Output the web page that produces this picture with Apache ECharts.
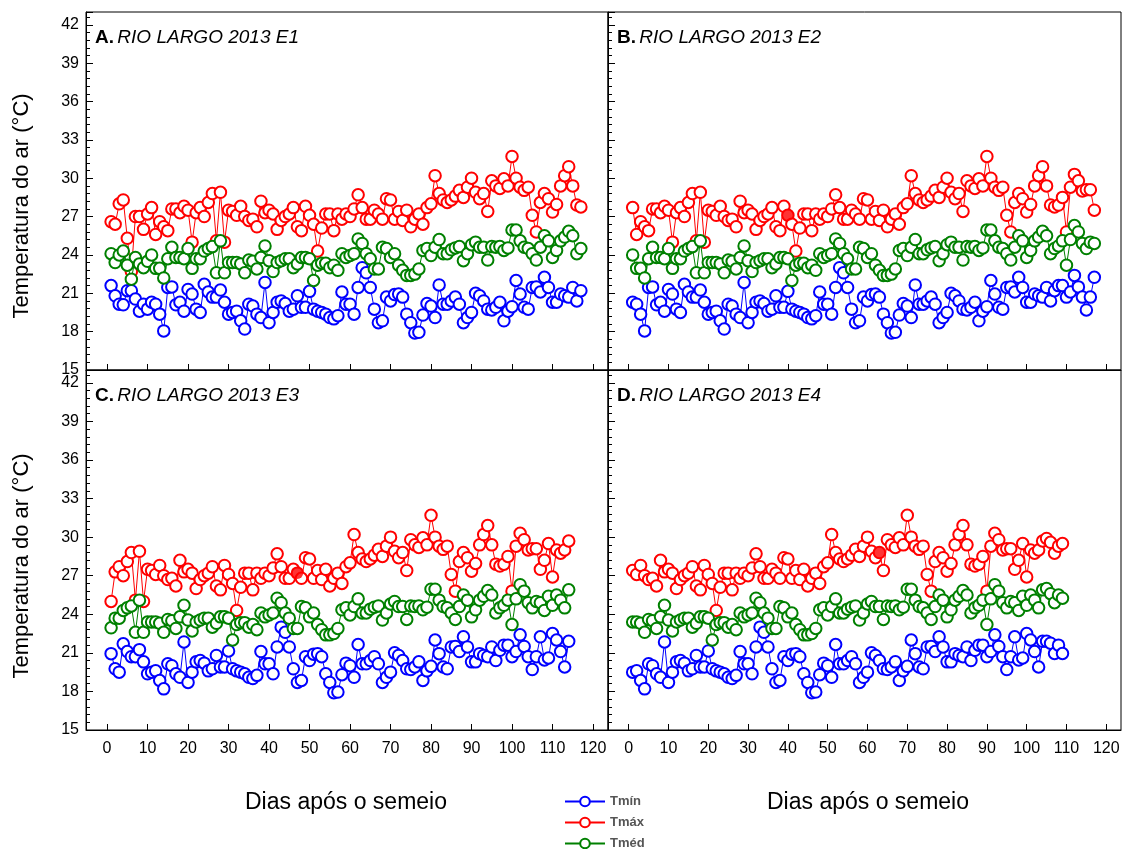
<!DOCTYPE html>
<html><head><meta charset="utf-8">
<script src="https://cdn.jsdelivr.net/npm/echarts@6/dist/echarts.min.js"></script>
<style>html,body{margin:0;padding:0;background:#fff}#c{width:1123px;height:849px}</style>
</head><body><div id="c"></div>
<script>
// Daily series (base day 1..139); each panel is a window of this record
const tmaxBase = [
26.6,26.4,28.0,28.3,25.3,22.7,27.0,27.0,26.0,27.2,
27.7,25.6,26.6,26.2,25.9,27.6,27.6,27.3,27.8,27.5,
25.0,27.3,27.7,27.0,28.1,28.8,25.1,28.9,25.0,27.5,
27.4,27.1,27.8,27.0,26.7,26.8,26.2,28.2,27.3,27.5,
27.2,26.0,26.7,27.0,27.2,27.7,26.2,25.9,27.8,27.1,
26.4,24.3,26.1,27.2,27.2,25.9,27.2,26.8,27.2,27.0,
27.6,28.7,27.7,26.8,26.8,27.5,27.2,26.8,28.4,28.3,
26.8,27.4,26.7,27.5,26.2,26.8,27.2,26.4,27.7,28.0,
30.2,28.8,28.3,28.1,28.3,28.6,29.05,28.5,29.3,30.0,
28.9,28.4,28.8,27.4,29.8,29.4,29.2,29.95,29.4,31.7,
30.0,29.3,29.05,29.3,27.1,25.8,28.1,28.8,28.4,27.35,
27.95,29.4,30.2,30.9,29.4,27.9,27.75,27.9,28.5,25.8,
29.3,30.3,29.8,29.0,29.1,29.1,27.5,28.2,29.5,26.9,
29.0,28.75,29.0,29.7,29.9,29.6,28.75,29.3,29.5];
const tmedBase = [
24.1,23.4,24.0,24.3,23.2,22.1,23.8,23.3,23.0,23.5,
24.0,22.95,22.95,22.2,23.7,24.6,23.8,23.8,23.7,24.5,
22.95,23.7,23.7,24.3,24.5,24.65,22.6,25.1,22.6,23.4,
23.4,23.4,23.3,22.6,23.6,23.5,22.9,23.8,24.7,23.55,
22.7,23.4,23.55,23.7,23.7,23.0,23.3,23.8,23.8,23.7,
22.0,23.2,23.35,23.35,23.0,23.2,22.8,24.1,23.8,23.95,
24.1,25.25,24.9,24.1,23.7,22.9,22.9,24.6,24.5,23.8,
24.1,23.2,22.8,22.4,22.4,22.5,22.9,24.35,24.5,23.95,
24.6,25.2,24.1,24.1,24.4,24.55,24.65,23.55,24.1,24.8,
25.0,24.6,24.6,23.6,24.65,24.6,24.65,24.35,24.55,25.95,
25.95,25.1,24.6,24.5,24.1,23.6,24.6,25.5,25.1,23.8,
24.35,25.1,25.4,25.85,25.5,24.1,24.5,24.7,25.1,23.2,
25.2,26.3,25.8,24.9,24.5,25.0,24.9,24.3,25.4,24.7,
25.5,25.1,24.5,25.9,26.0,25.6,24.9,25.5,25.25];
const tminBase = [
21.6,20.8,20.15,20.1,21.2,21.2,20.55,19.6,20.15,19.76,
20.3,20.15,19.37,18.06,21.46,21.5,20.1,20.3,19.6,21.3,
20.94,19.76,19.5,21.7,21.1,20.7,20.7,21.25,20.3,19.37,
19.5,19.6,18.85,18.2,20.15,20.0,19.37,19.1,21.85,18.7,
19.5,20.3,20.4,20.2,19.6,19.76,20.8,19.9,19.9,21.15,
19.76,19.6,19.5,19.37,19.1,19.0,19.25,21.1,20.15,20.15,
19.37,21.46,23.0,22.6,21.46,19.76,18.7,18.85,20.7,20.4,
20.9,20.94,20.7,19.37,18.7,17.9,17.95,19.3,20.2,20.0,
19.1,21.65,20.15,20.15,20.4,20.7,20.15,18.7,19.1,19.5,
21.0,20.8,20.4,19.76,19.7,19.9,20.3,18.85,19.6,19.95,
22.0,20.94,19.9,19.76,21.46,21.5,21.1,22.25,21.46,20.3,
20.3,20.94,20.8,20.7,21.46,20.4,21.2,21.6,21.6,20.7,
21.1,22.4,21.5,20.7,19.7,20.7,22.25,20.45,20.6,22.5,
22.0,21.1,19.9,21.9,21.9,21.75,20.95,21.6,20.95];

const panelLetters = ['A.', 'B.', 'C.', 'D.'];
const panelNames = ['RIO LARGO 2013 E1', 'RIO LARGO 2013 E2', 'RIO LARGO 2013 E3', 'RIO LARGO 2013 E4'];
const panelOffsets = [0, 10, 20, 30];      // first base day of each sowing
const panelLengths = [117, 117, 114, 109]; // days plotted
const markedDays = [null, 40, 47, 63];     // filled Tmáx point
const xTickValues = [0,10,20,30,40,50,60,70,80,90,100,110,120];
const seriesNames = ['Tmín', 'Tmáx', 'Tméd'];
const seriesColors = ['#0000ff', '#ff0000', '#008000'];

const grids = [
  {left: 86, top: 12, width: 522, height: 358},
  {left: 608, top: 12, width: 513, height: 358},
  {left: 86, top: 370, width: 522, height: 360},
  {left: 608, top: 370, width: 513, height: 360}
];

const FONT = 'Liberation Sans, Arial, sans-serif';
const chart = echarts.init(document.getElementById('c'), null, {renderer: 'canvas'});
const xAxes = [], yAxes = [], series = [], graphics = [];
const bases = [tminBase, tmaxBase, tmedBase];

grids.forEach((g, p) => {
  const bottom = p >= 2, leftCol = (p % 2) === 0;
  xAxes.push({
    type: 'value', gridIndex: p, min: -5.2, max: 123.7,
    axisLine: {show: true, onZero: false, lineStyle: {color: '#000', width: 1}},
    axisTick: {show: true, inside: true, length: 6, customValues: xTickValues, lineStyle: {color: '#000'}},
    axisLabel: {show: bottom, customValues: xTickValues, color: '#000', fontSize: 16, fontFamily: FONT, margin: 11},
    splitLine: {show: false}
  });
  yAxes.push({
    type: 'value', gridIndex: p, min: 15, max: 43, interval: 3,
    axisLine: {show: true, onZero: false, lineStyle: {color: '#000', width: 1}},
    axisTick: {show: true, inside: true, length: 7, lineStyle: {color: '#000'}},
    minorTick: {show: true, splitNumber: 5, length: 4, lineStyle: {color: '#000'}},
    axisLabel: {show: leftCol, showMaxLabel: false, color: '#000', fontSize: 16, fontFamily: FONT, margin: 7},
    splitLine: {show: false}
  });
  const off = panelOffsets[p], len = panelLengths[p];
  bases.forEach((arr, s) => {
    const data = [];
    for (let d = 1; d <= len; d++) data.push([d, arr[d - 1 + off]]);
    series.push({
      name: seriesNames[s], type: 'line', xAxisIndex: p, yAxisIndex: p, data,
      symbol: 'emptyCircle', symbolSize: 11.5, showAllSymbol: true,
      lineStyle: {color: seriesColors[s], width: 1},
      itemStyle: {color: seriesColors[s], borderWidth: 1.3},
      animation: false, z: 2 + s
    });
  });
  if (markedDays[p] !== null) {
    const d = markedDays[p];
    series.push({
      type: 'scatter', xAxisIndex: p, yAxisIndex: p, data: [[d, tmaxBase[d - 1 + off]]],
      symbol: 'circle', symbolSize: 11.5, itemStyle: {color: '#ff0000'}, z: 6, animation: false
    });
  }
  graphics.push({
    type: 'text', left: g.left + 9, top: g.top + 16,
    style: {
      text: '{b|' + panelLetters[p] + '} {i|' + panelNames[p] + '}',
      rich: {
        b: {fontSize: 19, fontWeight: 'bold', fontFamily: FONT, fill: '#000'},
        i: {fontSize: 19, fontStyle: 'italic', fontFamily: FONT, fill: '#000'}
      }
    }
  });
});

['Temperatura do ar (°C)', 'Temperatura do ar (°C)'].forEach((t, i) => {
  graphics.push({
    type: 'text', x: 22, y: i === 0 ? 206 : 566, rotation: Math.PI / 2,
    style: {text: t, fontSize: 22, fontFamily: FONT, fill: '#000', align: 'center', verticalAlign: 'middle'}
  });
});
[346, 868].forEach(cx => {
  graphics.push({
    type: 'text', x: cx, y: 803,
    style: {text: 'Dias após o semeio', fontSize: 23, fontFamily: FONT, fill: '#000', align: 'center', verticalAlign: 'middle'}
  });
});

const legendTops = [795, 816, 837];
chart.setOption({
  backgroundColor: '#fff',
  animation: false,
  grid: grids.map(g => Object.assign({show: true, borderColor: '#000', borderWidth: 1, backgroundColor: 'transparent', outerBoundsMode: 'none', containLabel: false}, g)),
  xAxis: xAxes,
  yAxis: yAxes,
  legend: seriesNames.map((n, i) => ({
    data: [n], orient: 'vertical', left: 564, top: legendTops[i],
    itemWidth: 40, itemHeight: 12, padding: 0,
    textStyle: {fontSize: 13, fontWeight: 'bold', color: '#555', fontFamily: FONT}
  })),
  series,
  graphic: graphics
});
</script></body></html>
